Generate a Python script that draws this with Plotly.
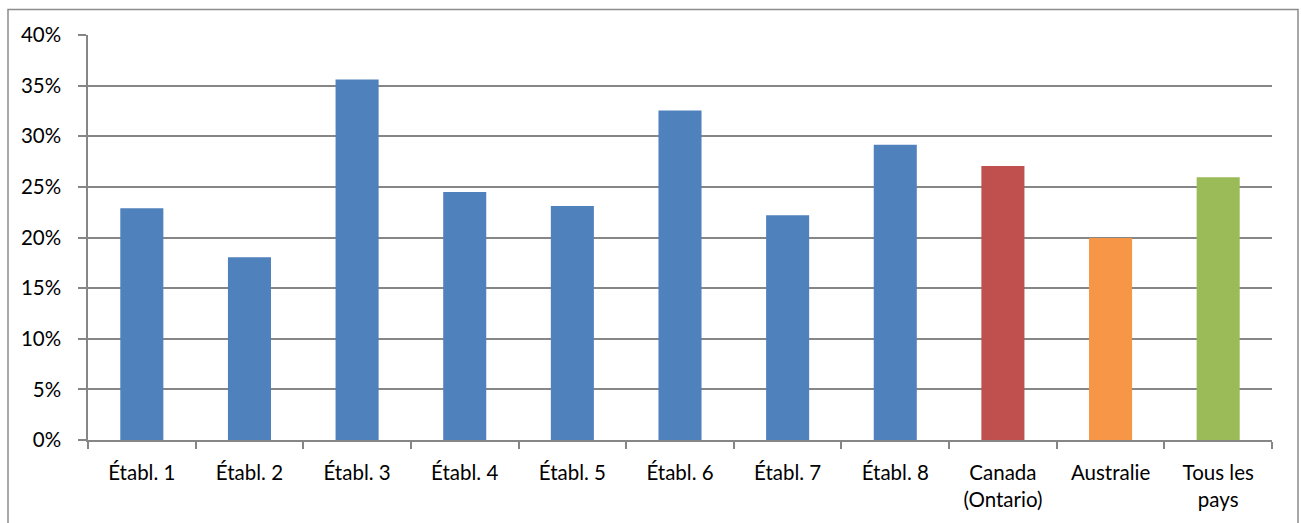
import plotly.graph_objects as go

categories = ["Établ. 1", "Établ. 2", "Établ. 3", "Établ. 4", "Établ. 5", "Établ. 6",
              "Établ. 7", "Établ. 8", "Canada<br>(Ontario)", "Australie", "Tous les<br>pays"]
values = [22.9, 18.05, 35.6, 24.5, 23.1, 32.55, 22.2, 29.15, 27.05, 19.95, 25.95]
colors = ["#4F81BD"] * 8 + ["#C0504D", "#F79646", "#9BBB59"]
y_ticks = [0, 5, 10, 15, 20, 25, 30, 35, 40]
y_tick_labels = [f"{t}%" for t in y_ticks]

W, H = 1301, 523
L, R, T, B = 88, 29, 34.5, 83
pw, ph = W - L - R, H - T - B

fig = go.Figure(go.Bar(
    x=categories,
    y=values,
    marker=dict(color=colors, line=dict(width=0)),
    width=0.4,
))

axis_font = dict(family="Lato, Carlito, sans-serif", size=20.5, color="#000000")

fig.update_layout(
    width=W, height=H,
    margin=dict(l=L, r=R, t=T, b=B, pad=0),
    paper_bgcolor="white",
    plot_bgcolor="white",
    showlegend=False,
    font=axis_font,
    xaxis=dict(
        showgrid=False,
        showline=True, linecolor="#868686", linewidth=1.5,
        ticks="outside", tickson="boundaries", ticklen=7,
        tickcolor="#868686", tickwidth=1.5,
        ticklabelstandoff=14,
        tickfont=axis_font,
    ),
    yaxis=dict(
        range=[0, 40],
        tickvals=y_ticks, ticktext=y_tick_labels,
        showgrid=True, gridcolor="#868686", gridwidth=1.5,
        showline=True, linecolor="#868686", linewidth=1.5,
        ticks="outside", ticklen=8, tickcolor="#868686", tickwidth=1.5,
        ticklabelstandoff=13,
        zeroline=False,
        tickfont=axis_font,
    ),
    # outer chart frame; its bottom edge runs just past the page
    shapes=[dict(
        type="rect", xref="paper", yref="paper",
        x0=(8 - L) / pw, x1=(1298 - L) / pw,
        y0=(H - B - 526) / ph, y1=(H - B - 9) / ph,
        line=dict(color="#8C8C8C", width=1.5),
        fillcolor="rgba(0,0,0,0)", layer="below",
    )],
)

fig.write_html("out.html")
